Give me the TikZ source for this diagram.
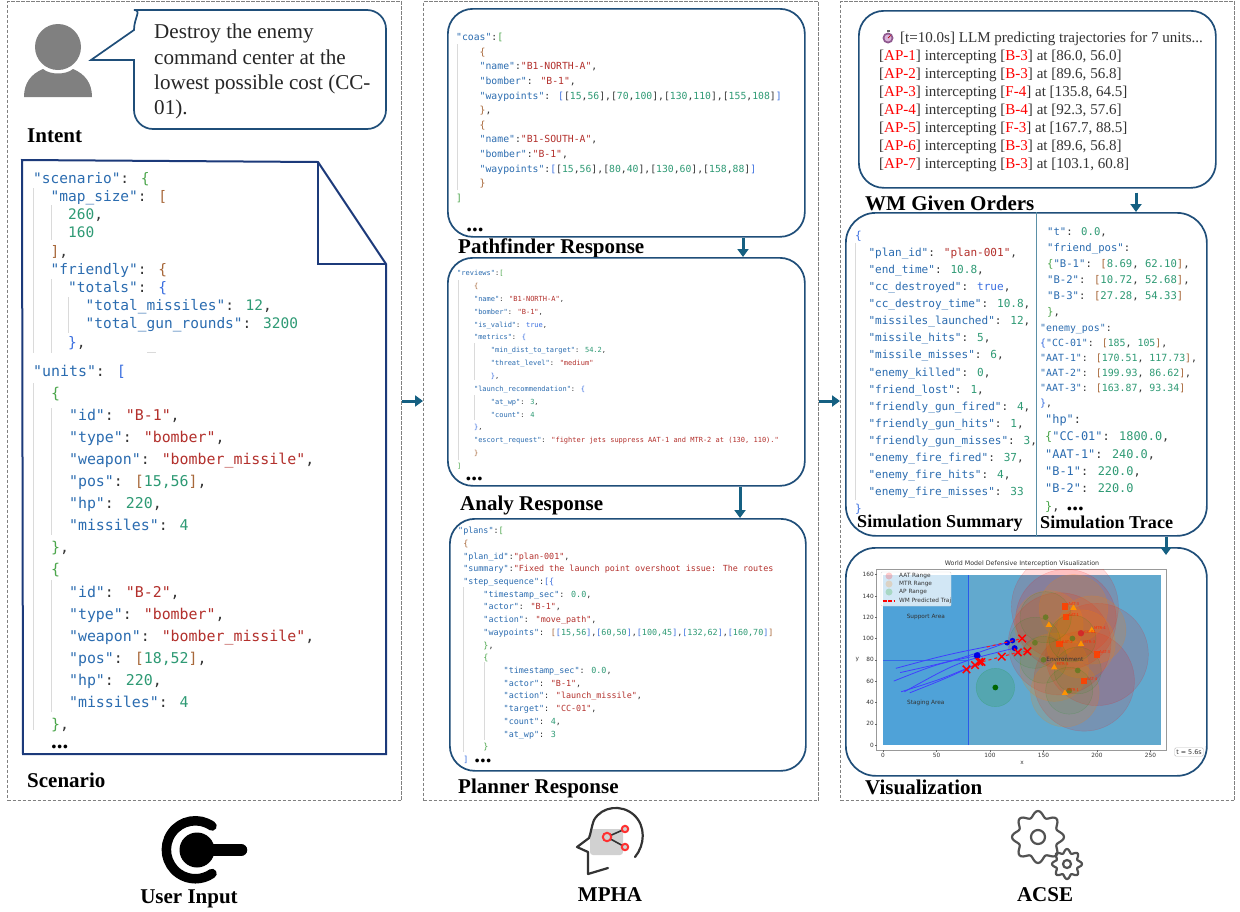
\documentclass[tikz,border=0pt]{standalone}
\usepackage{fontspec}
\usetikzlibrary{arrows.meta}
\setmainfont{Liberation Serif}
\newfontfamily\codef{DejaVu Sans Mono}
\newfontfamily\plotf{DejaVu Sans}
\definecolor{boxc}{HTML}{1F4E79}
\definecolor{navy}{HTML}{1C3A7A}
\definecolor{arrc}{HTML}{156082}
\definecolor{dashc}{HTML}{808080}
\definecolor{keyc}{HTML}{2B6CB0}
\definecolor{strc}{HTML}{B3302C}
\definecolor{numc}{HTML}{2E9A74}
\definecolor{brc}{HTML}{A8683A}
\definecolor{grc}{HTML}{4CA64C}
\definecolor{blc}{HTML}{3B6FE0}
\definecolor{guide}{HTML}{DADADA}
\definecolor{txtc}{HTML}{333333}
\definecolor{seal}{HTML}{4FA2D8}
\definecolor{sear}{HTML}{62A9CE}
\definecolor{oliv}{HTML}{5F7A1E}
\newcommand\jk[1]{\textcolor{keyc}{"#1"}}
\newcommand\js[1]{\textcolor{strc}{"#1"}}
\newcommand\jn[1]{\textcolor{numc}{#1}}
\newcommand\jb[1]{\textcolor{brc}{#1}}
\newcommand\jg[1]{\textcolor{grc}{#1}}
\newcommand\jl[1]{\textcolor{blc}{#1}}
\newcommand\ind[1]{\hspace*{\dimexpr#1\fontcharwd\font`0 \relax}}
\newcommand\jpr[2]{\jb{[}\jn{#1},\ \jn{#2}\jb{]}}
\newcommand\jw[2]{[\jn{#1},\jn{#2}]}
\newcommand\jap[4]{[\textcolor{red}{AP-#1}] intercepting [\textcolor{red}{#2}] at [#3, #4]}
\newcommand\jdots{{\rmfamily\bfseries\color{black}\fontsize{23}{10}\selectfont ...}}
\tikzset{
  panel/.style={draw=dashc,dash pattern=on 3.5pt off 1.5pt,line width=1.3pt,anchor=north west,inner sep=0pt},
  rbox/.style={draw=boxc,line width=1.7pt,rounded corners=25pt,anchor=north west,inner sep=0pt,fill=white},
  arr/.style={draw=arrc,line width=3pt,-{Triangle[length=8pt,width=11pt]}},
  title/.style={font=\bfseries\fontsize{21}{24}\selectfont,anchor=west,inner sep=0pt},
  dotsn/.style={inner sep=0pt,font=\bfseries\fontsize{23}{24}\selectfont},
  code/.style={anchor=north west,inner sep=0pt,align=left,text=txtc},
  gd/.style={draw=guide,line width=1pt},
  plottxt/.style={font=\plotf\fontsize{5.8}{7}\selectfont,text=txtc,inner sep=0pt},
  aatc/.style={draw=red,fill=red,draw opacity=.18,fill opacity=.13},
  mtrc/.style={draw=orange,fill=orange,draw opacity=.22,fill opacity=.17},
  apc/.style={draw=green!60!black,fill=green!60!black,draw opacity=.18,fill opacity=.06},
  gearl/.style={draw=black!68,line width=2.2pt,line join=round},
}
\begin{document}
\begin{tikzpicture}[x=1pt,y=-1pt]
\useasboundingbox (0,0) rectangle (1240,911);
\fill[white] (0,0) rectangle (1240,911);

% panels
\node[panel,minimum width=394pt,minimum height=799pt] (inp) at (7,1) {};
\node[panel,minimum width=395pt,minimum height=799pt] (mid) at (423,1) {};
\node[panel,minimum width=394pt,minimum height=799pt] (acs) at (840,1) {};

% person
\fill[black!50] (58,47) circle (23);
\fill[black!50] (24,97) .. controls (24,83) and (31,74) .. (43,69) .. controls (50,75) and (66,75) .. (73,69) .. controls (85,74) and (92,83) .. (92,97) -- cycle;

% speech bubble
\draw[draw=boxc,line width=1.7pt,line join=miter] (91,60) -- (134,60) [rounded corners=19pt] -- (134,129) -- (386,129) -- (386,10) -- (153,10) [sharp corners] .. controls (142,10) and (134,18) .. (134,30) -- cycle;
\node[anchor=north west,inner sep=0pt,align=left,text=black!85,font=\fontsize{21.1}{25.2}\selectfont] (say) at (154,24) {Destroy the enemy\\command center at the\\lowest possible cost (CC-\\01).};
\node[title] (intent) at (27,136) {Intent};

% scenario sheet
\draw[draw=navy,line width=2pt,line join=miter] (22,160) -- (318,162) -- (386,264) -- (386,754) -- (23,754) -- cycle;
\draw[draw=navy,line width=2pt,line join=miter] (318,162) -- (318,264) -- (386,264);
\foreach \a/\b/\c in {33/188/353,51/205/240,51/279/353,68/297/333,33/383/730,51/408/535,51/580/712}
  \draw[gd] (\a,\b) -- (\a,\c);
\draw[guide,line width=1pt] (147,352) -- (156,352);

\node[code,font=\codef\fontsize{14.5}{18.2}\selectfont] (sc1) at (33,172) {%
\jk{scenario}: \jg{\{}\\
\ind{2}\jk{map\_size}: \jb{[}\\
\ind{4}\jn{260},\\
\ind{4}\jn{160}\\
\ind{2}\jb{]},\\
\ind{2}\jk{friendly}: \jb{\{}\\
\ind{4}\jk{totals}: \jl{\{}\\
\ind{6}\jk{total\_missiles}: \jn{12},\\
\ind{6}\jk{total\_gun\_rounds}: \jn{3200}\\
\ind{4}\jl{\}},};
\node[code,font=\codef\fontsize{14.9}{22.05}\selectfont] (sc2) at (33,365) {%
\jk{units}: \jl{[}\\
\ind{2}\jg{\{}\\
\ind{4}\jk{id}: \js{B-1},\\
\ind{4}\jk{type}: \js{bomber},\\
\ind{4}\jk{weapon}: \js{bomber\_missile},\\
\ind{4}\jk{pos}: \jb{[}\jn{15,56}\jb{]},\\
\ind{4}\jk{hp}: \jn{220},\\
\ind{4}\jk{missiles}: \jn{4}\\
\ind{2}\jg{\}},\\
\ind{2}\jg{\{}\\
\ind{4}\jk{id}: \js{B-2},\\
\ind{4}\jk{type}: \js{bomber},\\
\ind{4}\jk{weapon}: \js{bomber\_missile},\\
\ind{4}\jk{pos}: \jb{[}\jn{18,52}\jb{]},\\
\ind{4}\jk{hp}: \jn{220},\\
\ind{4}\jk{missiles}: \jn{4}\\
\ind{2}\jg{\}},\\[-3pt]
\ind{2}\jdots};
\node[title] (scen) at (27,780) {Scenario};

% pathfinder
\node[rbox,minimum width=357pt,minimum height=228pt] (pf) at (447,8) {};
\draw[gd] (457,44) -- (457,190);
\node[code,font=\codef\fontsize{9.77}{14.6}\selectfont] (pfc) at (456,33) {%
\jk{coas}:\jg{[}\\
\ind{4}\jb{\{}\\
\ind{4}\jk{name}:\js{B1-NORTH-A},\\
\ind{4}\jk{bomber}: \js{B-1},\\
\ind{4}\jk{waypoints}: \jl{[}\jw{15}{56},\jw{70}{100},\jw{130}{110},\jw{155}{108}\jl{]}\\
\ind{4}\jb{\}},\\
\ind{4}\jb{\{}\\
\ind{4}\jk{name}:\js{B1-SOUTH-A},\\
\ind{4}\jk{bomber}:\js{B-1},\\
\ind{4}\jk{waypoints}:\jl{[}\jw{15}{56},\jw{80}{40},\jw{130}{60},\jw{158}{88}\jl{]}\\
\ind{4}\jb{\}}\\
\jg{]}};
\node[dotsn] (dots2) at (475,230) {...};
\node[title] (pft) at (458,248) {Pathfinder Response};

% analyser
\node[rbox,minimum width=357pt,minimum height=228pt] (an) at (447,257) {};
\draw[gd] (458,280) -- (458,460);
\draw[gd] (474,343) -- (474,380);
\draw[gd] (474,395) -- (474,420);
\node[code,font=\codef\fontsize{7}{12.87}\selectfont] (anc) at (457,270) {%
\jk{reviews}:\jg{[}\\
\ind{4}\jb{\{}\\
\ind{4}\jk{name}: \js{B1-NORTH-A},\\
\ind{4}\jk{bomber}: \js{B-1},\\
\ind{4}\jk{is\_valid}: \jl{true},\\
\ind{4}\jk{metrics}: \jl{\{}\\
\ind{8}\jk{min\_dist\_to\_target}: \jn{54.2},\\
\ind{8}\jk{threat\_level}: \js{medium}\\
\ind{8}\jl{\}},\\
\ind{4}\jk{launch\_recommendation}: \jl{\{}\\
\ind{8}\jk{at\_wp}: \jn{3},\\
\ind{8}\jk{count}: \jn{4}\\
\ind{4}\jl{\}},\\
\ind{4}\jk{escort\_request}: \js{fighter jets suppress AAT-1 and MTR-2 at (130, 110).}\\
\ind{4}\jb{\}}\\
\jg{]}\\[-1pt]
\ind{2}\jdots};
\node[title] (ant) at (460,505) {Analy Response};

% planner
\node[rbox,minimum width=356pt,minimum height=252pt] (pl) at (449,518) {};
\draw[gd] (463,587) -- (463,752);
\draw[gd] (484,662) -- (484,740);
\node[code,font=\codef\fontsize{8.4}{12.72}\selectfont] (plc) at (458,527) {%
\jk{plans}:\jg{[}\\
\ind{1}\jb{\{}\\
\ind{1}\jk{plan\_id}:\js{plan-001},\\
\ind{1}\jk{summary}:\textcolor{strc}{"Fixed the launch point overshoot issue: The routes}\\
\ind{1}\jk{step\_sequence}:\jl{[\{}\\
\ind{5}\jk{timestamp\_sec}: \jn{0.0},\\
\ind{5}\jk{actor}: \js{B-1},\\
\ind{5}\jk{action}: \js{move\_path},\\
\ind{5}\jk{waypoints}: \jb{[}\jl{[}\jn{15,56}\jl{]},\jl{[}\jn{60,50}\jl{]},\jl{[}\jn{100,45}\jl{]},\jl{[}\jn{132,62}\jl{]},\jl{[}\jn{160,70}\jl{]}\jb{]}\\
\ind{5}\jg{\}},\\
\ind{5}\jg{\{}\\
\ind{9}\jk{timestamp\_sec}: \jn{0.0},\\
\ind{9}\jk{actor}: \js{B-1},\\
\ind{9}\jk{action}: \js{launch\_missile},\\
\ind{9}\jk{target}: \js{CC-01},\\
\ind{9}\jk{count}: \jn{4},\\
\ind{9}\jk{at\_wp}: \jn{3}\\
\ind{5}\jg{\}}\\
\ind{1}\jl{]}\hspace{6pt}\jdots};
\node[title] (plt) at (458,788) {Planner Response};

% orders
\node[rbox,minimum width=357pt,minimum height=177pt] (wm) at (858,10) {};
\fill[black!35!violet!65] (888,38) circle (5.5);
\fill[black!60] (886.5,30) rectangle (889.5,32);
\fill[white!70!violet] (888,38) circle (3.5);
\draw[red!70!black,line width=.7pt] (888,38) -- (890.5,35.5);
\node[code,text=txtc,font=\fontsize{15.05}{18}\selectfont,anchor=north west] (wmh) at (900,32) {[t=10.0s] LLM predicting trajectories for 7 units...};
\node[code,text=txtc,font=\fontsize{15.05}{18.05}\selectfont] (wmc) at (879,50) {%
\jap{1}{B-3}{86.0}{56.0}\\
\jap{2}{B-3}{89.6}{56.8}\\
\jap{3}{F-4}{135.8}{64.5}\\
\jap{4}{B-4}{92.3}{57.6}\\
\jap{5}{F-3}{167.7}{88.5}\\
\jap{6}{B-3}{89.6}{56.8}\\
\jap{7}{B-3}{103.1}{60.8}};
\node[title] (wmt) at (865,203) {WM Given Orders};

% simulation
\node[rbox,rounded corners=30pt,minimum width=361pt,minimum height=323pt] (sim) at (845,212) {};
\coordinate (cD) at (1036,0);
\draw[draw=arrc!70,line width=1pt] (cD |- sim.north) -- (cD |- sim.south);
\draw[gd] (855,243) -- (855,500);
\node[code,font=\codef\fontsize{11.05}{17.05}\selectfont] (ssc) at (855,231) {%
\jl{\{}\\
\ind{2}\jk{plan\_id}: \js{plan-001},\\
\ind{2}\jk{end\_time}: \jn{10.8},\\
\ind{2}\jk{cc\_destroyed}: \jl{true},\\
\ind{2}\jk{cc\_destroy\_time}: \jn{10.8},\\
\ind{2}\jk{missiles\_launched}: \jn{12},\\
\ind{2}\jk{missile\_hits}: \jn{5},\\
\ind{2}\jk{missile\_misses}: \jn{6},\\
\ind{2}\jk{enemy\_killed}: \jn{0},\\
\ind{2}\jk{friend\_lost}: \jn{1},\\
\ind{2}\jk{friendly\_gun\_fired}: \jn{4},\\
\ind{2}\jk{friendly\_gun\_hits}: \jn{1},\\
\ind{2}\jk{friendly\_gun\_misses}: \jn{3},\\
\ind{2}\jk{enemy\_fire\_fired}: \jn{37},\\
\ind{2}\jk{enemy\_fire\_hits}: \jn{4},\\
\ind{2}\jk{enemy\_fire\_misses}: \jn{33}\\
\jl{\}}};
\node[code,font=\codef\fontsize{10.6}{16}\selectfont] (st1) at (1047,227) {%
\jk{t}: \jn{0.0},\\
\jk{friend\_pos}:\\
\jg{\{}\jk{B-1}: \jpr{8.69}{62.10},\\
\jk{B-2}: \jpr{10.72}{52.68},\\
\jk{B-3}: \jpr{27.28}{54.33}\\
\jg{\}},};
\node[code,font=\codef\fontsize{9.9}{15}\selectfont] (st2) at (1040,324) {%
\jk{enemy\_pos}:\\
\jl{\{}\jk{CC-01}: \jpr{185}{105},\\
\jk{AAT-1}: \jpr{170.51}{117.73},\\
\jk{AAT-2}: \jpr{199.93}{86.62},\\
\jk{AAT-3}: \jpr{163.87}{93.34}\\
\jl{\}},};
\node[code,font=\codef\fontsize{11.9}{17.4}\selectfont] (st3) at (1045,414) {%
\jk{hp}:\\
\jg{\{}\jk{CC-01}: \jn{1800.0},\\
\jk{AAT-1}: \jn{240.0},\\
\jk{B-1}: \jn{220.0},\\
\jk{B-2}: \jn{220.0}\\
\jg{\}},\hspace{7pt}\jdots};
\node[title,font=\bfseries\fontsize{18.1}{20}\selectfont] (sst) at (857,523) {Simulation Summary};
\node[title,font=\bfseries\fontsize{18.1}{20}\selectfont] (stt) at (1040,522) {Simulation Trace};

% visualisation
\node[rbox,rounded corners=30pt,minimum width=361pt,minimum height=228pt] (vis) at (845,547) {};
\node[plottxt,font=\plotf\fontsize{6.3}{8}\selectfont] (vtitle) at (1022,563.5) {World Model Defensive Interception Visualization};
\begin{scope}[shift={(883,745)},x=1.07pt,y=1.065pt]
  \draw[black!40,fill=white,line width=1pt] (-6,-5) rectangle (265,165);
  \fill[fill=sear] (0,0) rectangle (260,160);
  \fill[fill=seal] (0,0) rectangle (80,160);
  \draw[blue!45!seal,line width=.6pt] (80,0) -- (80,160);
  \draw[blue!35!seal,line width=.6pt] (0,80) -- (80,80);
  \begin{scope}
    \clip (-6,-5) rectangle (265,165);
    \foreach \cx/\cy/\rr in {170/130/50,171/118/47,165/95/48,200/85/48,188/60/47}
      \fill[aatc] (\cx,\cy) circle (\rr);
    \foreach \cx/\cy in {178/128,155/113,195/108,185/95,160/73,170/49}
      \fill[mtrc] (\cx,\cy) circle (32);
    \foreach \cx/\cy/\rr in {152/120/24,142/96/24,150/80/22,177/100/22,182/70/22,174/51/22}
      \fill[apc] (\cx,\cy) circle (\rr);
    \fill[draw=green!60!black,fill=green!60!black,draw opacity=.2,fill opacity=.14] (105,54) circle (18);
  \end{scope}
  \foreach \cx/\cy in {152/120,142/96,150/80,177/100,182/70,174/51}
    \fill[oliv,opacity=.8] (\cx,\cy) circle (2.7);
  \fill[green!40!black] (105,54) circle (2.7);
  \foreach \cx/\cy in {170/130,171/120,165/95,200/85,188/60}
    \fill[orange!50!red,opacity=.9] (\cx-3,\cy-3) rectangle (\cx+3,\cy+3);
  \fill[red!70!violet,opacity=.6] (185,105) circle (3);
  \foreach \cx/\cy in {178/129,155/113,195/108,185/95,160/73,170/49}
    \fill[orange!85!yellow] (\cx,\cy+3.2) -- (\cx-3,\cy-2) -- (\cx+3,\cy-2) -- cycle;
  \foreach \n/\cx/\cy/\t in {a/173/132/AAT-3,b/173/122/AAT-1,c/167/97/AAT-2,d/202/87/AAT-3,e/190/62/AAT-4,f/188/106/CC-01,g/197/110/MTR-4,h/187/97/MTR-3,i/162/76/MTR-5,j/172/52/MTR-1}
    \node[anchor=west,inner sep=0pt,text=red!70!orange,font=\plotf\fontsize{3.8}{4}\selectfont] (lab\n) at (\cx,\cy) {\t};
  \foreach \a/\b/\c/\d/\e/\f in {12/72/60/85/116/96,16/68/70/80/121/98,10/60/50/76/88/84,17/50/55/62/90/77,25/49/60/63/92/78,20/50/70/78/123/91}
    \draw[blue!75!white,line width=.8pt] (\a,\b) .. controls (\c,\d) .. (\e,\f);
  \foreach \cx/\cy/\rr in {88/84/3.2,116/96/2.6,121/98/2.6,123/91/2.8}
    \fill[blue!90!black] (\cx,\cy) circle (\rr);
  \draw[red!90,line width=1.1pt,dashed] (97,92) -- (130,100);
  \draw[red!90,line width=1.1pt,dashed] (78,71) -- (92,78) -- (111,83) -- (126,87) -- (135,88);
  \foreach \cx/\cy in {130/100,78/71,86/75,90/78,92/78,111/83,126/87,135/88}
    \draw[red,line width=1.5pt] (\cx-3.5,\cy-3.5) -- (\cx+3.5,\cy+3.5) (\cx-3.5,\cy+3.5) -- (\cx+3.5,\cy-3.5);
  \node[plottxt] (ar1) at (40,120) {Support Area};
  \node[plottxt] (ar2) at (40,40) {Staging Area};
  \node[plottxt] (ar3) at (170,80) {Environment};
  \foreach \v in {0,50,100,150,200,250}{
    \draw[black!60,line width=.4pt] (\v,-5) -- (\v,-6.5);
    \node[plottxt,anchor=north] (xt\v) at (\v,-7.5) {\v};
  }
  \foreach \v in {0,20,40,60,80,100,120,140,160}{
    \draw[black!60,line width=.4pt] (-6,\v) -- (-7.5,\v);
    \node[plottxt,anchor=east] (yt\v) at (-8.5,\v) {\v};
  }
  \node[plottxt] (xl) at (130,-17) {x};
  \node[plottxt] (yl) at (-24,80) {y};
\end{scope}
\fill[white,fill opacity=.75,draw=black!15,rounded corners=1pt] (881,572) rectangle (951,606);
\foreach \n/\yy/\cc/\t in {a/576/red/AAT Range,b/584/orange/MTR Range,c/592/green!60!black/AP Range}{
  \fill[\cc,opacity=.2] (889,\yy) circle (3.5);
  \node[plottxt,anchor=west] (lg\n) at (899,\yy) {\t};
}
\draw[red,line width=1.1pt,dash pattern=on 4pt off 1.5pt] (882.5,601) -- (894,601);
\node[plottxt,anchor=west] (lgd) at (899,601) {WM Predicted Traj};
\node[draw=black!25,fill=white,rounded corners=1.5pt,inner sep=1.8pt,font=\plotf\fontsize{6.4}{7}\selectfont,text=txtc] (tbox) at (1189,752) {t = 5.6s};
\node[title] (vist) at (865,787) {Visualization};

% connectors
\coordinate (cA) at (0,401);
\coordinate (c1) at (743,0);
\coordinate (c2) at (740,0);
\coordinate (c3) at (1136,0);
\coordinate (c4) at (1166,0);
\draw[arr] (inp.east |- cA) -- (mid.west |- cA);
\draw[arr] (mid.east |- cA) -- (acs.west |- cA);
\draw[arr] (c1 |- pf.south) -- (c1 |- an.north);
\draw[arr] (c2 |- an.south) -- (c2 |- pl.north);
\draw[arr] ([yshift=-4pt]c3 |- wm.south) -- (c3 |- sim.north);
\draw[arr] (c4 |- sim.south) -- ([yshift=-8pt]c4 |- vis.north);

% user input icon
\draw[black,line width=9.5pt,line cap=round] (212,826) arc[start angle=-55,end angle=-305,radius=29];
\fill[black] (197,850) circle (17.5);
\draw[black,line width=12.5pt,line cap=round] (197,850) -- (241,850);
\node[inner sep=0pt,font=\bfseries\fontsize{21}{24}\selectfont] (uin) at (189,899) {User Input};

% MPHA icon
\fill[black!18,rounded corners=3pt] (590,829) rectangle (623,855);
\draw[black!80,line width=2.2pt,line cap=round,line join=round] (635,857) .. controls (645,845) and (646,826) .. (634,815) .. controls (622,804) and (602,806) .. (594,820) .. controls (591,828) and (591,833) .. (589,838) -- (577,847) -- (588,852) -- (588,874) -- (608,868);
\draw[black!80,line width=1.6pt] (607,837) -- (625,829) (607,837) -- (625,847);
\foreach \n/\cx/\cy/\rr in {a/607/837/4.2,b/625/829/3.2,c/625/847/3.2}
  \draw[red!75!pink,line width=2pt,fill=black!18] (\cx,\cy) circle (\rr);
\node[inner sep=0pt,font=\bfseries\fontsize{21}{24}\selectfont] (mph) at (610,895) {MPHA};

% ACSE icon
\draw[gearl] plot[smooth,domain=0:360,samples=97] ({1038+(23+3*cos(8*\x))*cos(\x)},{837+(23+3*cos(8*\x))*sin(\x)});
\draw[gearl] (1038,837) circle (7);
\draw[gearl] plot[smooth,domain=0:360,samples=97] ({1067+(13+2*cos(8*\x))*cos(\x)},{864+(13+2*cos(8*\x))*sin(\x)});
\draw[gearl] (1067,864) circle (4);
\node[inner sep=0pt,font=\bfseries\fontsize{21}{24}\selectfont] (acse) at (1045,895) {ACSE};
\end{tikzpicture}
\end{document}
